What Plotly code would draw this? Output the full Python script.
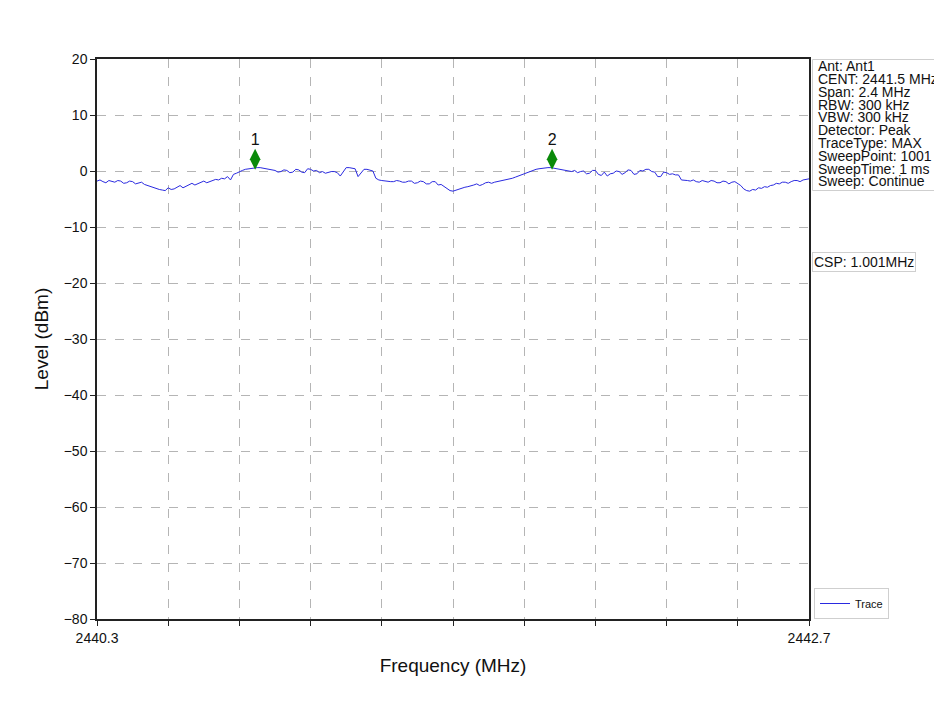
import plotly.graph_objects as go

# Sweep settings
f_start = 2440.3
f_stop = 2442.7
f_step = 0.01

# Measured level at each sweep point (dBm)
level_dbm = [
    -1.8, -1.6, -1.9, -2.1, -1.7, -1.9, -2.0, -1.7, -1.8, -2.2,
    -2.1, -1.8, -1.9, -2.3, -2.2, -2.0, -2.4, -2.6, -2.8, -3.0,
    -3.1, -3.3, -3.4, -3.5, -3.0, -3.3, -3.2, -2.9, -2.6, -3.0,
    -2.7, -2.4, -2.2, -2.5, -2.3, -2.1, -1.8, -2.1, -1.9, -1.6,
    -1.5, -1.6, -1.3, -1.4, -1.0, -1.6, -0.6, -0.4, -0.1, 0.1,
    0.3, 0.4, 0.5, 0.6, 0.6, 0.6, 0.5, 0.4, 0.3, 0.2,
    0.1, -0.2, -0.1, 0.2, 0.1, -0.3, -0.2, 0.3, 0.2, -0.2,
    -0.3, 0.4, 0.3, 0.0, 0.1, -0.3, -0.1, -0.4, -0.2, -0.1,
    -0.1, -0.3, -0.9, -0.2, 0.6, 0.6, 0.5, 0.4, -1.0, -0.4,
    0.3, 0.3, 0.2, 0.0, -1.3, -1.6, -1.7, -1.8, -1.8, -1.9,
    -1.9, -1.7, -1.8, -2.0, -2.0, -1.8, -1.8, -2.2, -2.1, -1.8,
    -1.9, -2.3, -2.3, -1.9, -1.9, -2.5, -2.4, -2.8, -3.2, -3.5,
    -3.6, -3.4, -3.2, -3.0, -2.9, -2.8, -2.7, -2.5, -2.3, -2.6,
    -2.4, -2.1, -2.0, -2.2, -2.0, -1.9, -1.8, -1.7, -1.6, -1.5,
    -1.3, -1.1, -0.9, -0.6, -0.4, -0.2, 0.0, 0.2, 0.3, 0.4,
    0.5, 0.6, 0.6, 0.6, 0.5, 0.4, 0.3, 0.2, 0.1, 0.0,
    -0.1, 0.1, -0.3, -0.1, 0.0, -0.5, -0.4, 0.1, 0.1, -0.6,
    -0.8, -0.2, -0.9, -0.5, -0.4, 0.0, -0.1, -0.6, -0.3, 0.2,
    0.1, -0.6, -0.5, 0.1, 0.0, 0.3, 0.3, -0.1, -0.2, -1.0,
    -1.0, -0.2, -0.3, -0.6, -0.5, -0.7, -0.7, -1.6, -1.6, -1.7,
    -1.8, -1.6, -1.9, -2.0, -1.7, -1.9, -2.0, -1.7, -1.8, -2.1,
    -2.1, -1.8, -1.9, -2.3, -2.0, -1.9, -2.3, -2.6, -3.2, -3.5,
    -3.6, -3.3, -3.4, -3.0, -3.1, -2.8, -2.9, -2.6, -2.5, -2.2,
    -2.3, -2.0, -2.0, -2.2, -1.9, -1.7, -1.7, -1.9, -1.6, -1.5,
    -1.4,
]
freq_mhz = [round(f_start + i * f_step, 4) for i in range(len(level_dbm))]

# Peak markers
marker_names = ["1", "2"]
marker_freq = [2440.833, 2441.834]
marker_level = [2.1, 2.1]

# Instrument settings panel
settings_lines = [
    "Ant: Ant1",
    "CENT: 2441.5 MHz",
    "Span: 2.4 MHz",
    "RBW: 300 kHz",
    "VBW: 300 kHz",
    "Detector: Peak",
    "TraceType: MAX",
    "SweepPoint: 1001",
    "SweepTime: 1 ms",
    "Sweep: Continue",
]
csp_text = "CSP: 1.001MHz"

y_ticks = [20, 10, 0, -10, -20, -30, -40, -50, -60, -70, -80]
x_ticks = [round(f_start + 0.24 * k, 2) for k in range(11)]
x_ticktext = ["2440.3"] + [""] * 9 + ["2442.7"]

FONT = "Liberation Sans, Arial, sans-serif"
W, H = 934, 719
ML, MR, MT, MB = 97, 125, 59, 100
PW, PH = W - ML - MR, H - MT - MB


def px_x(px):
    return (px - ML) / PW


def px_y(py):
    return (H - MB - py) / PH


fig = go.Figure()

fig.add_trace(go.Scatter(
    x=freq_mhz, y=level_dbm, mode="lines", name="Trace",
    line=dict(color="#2a2ae0", width=1),
))

fig.add_trace(go.Scatter(
    x=marker_freq, y=marker_level, mode="markers+text",
    text=marker_names, textposition="top center",
    textfont=dict(size=16, color="#111", family=FONT),
    marker=dict(symbol="diamond-tall", size=15, color="#0a8a0a",
                line=dict(width=0)),
    showlegend=False, cliponaxis=False,
))

shapes = []
annotations = []

# Settings box
shapes.append(dict(
    type="rect", xref="paper", yref="paper",
    x0=px_x(812.5), x1=px_x(945), y0=px_y(190.5), y1=px_y(59.5),
    line=dict(color="#cfcfcf", width=1), fillcolor="white", layer="above",
))
for i, line in enumerate(settings_lines):
    annotations.append(dict(
        xref="paper", yref="paper", x=px_x(816), y=px_y(66.5 + 12.75 * i),
        xanchor="left", yanchor="middle", showarrow=False, text=line,
        font=dict(size=14, color="#111", family=FONT),
    ))

# CSP box
annotations.append(dict(
    xref="paper", yref="paper", x=px_x(812), y=px_y(262),
    xanchor="left", yanchor="middle", showarrow=False, text=csp_text,
    font=dict(size=14, color="#111", family=FONT),
    bordercolor="#cfcfcf", borderwidth=1, borderpad=1, bgcolor="white",
))

fig.update_layout(
    width=W, height=H,
    margin=dict(l=ML, r=MR, t=MT, b=MB),
    paper_bgcolor="white", plot_bgcolor="white",
    font=dict(family=FONT, color="#111"),
    shapes=shapes, annotations=annotations,
    showlegend=True,
    legend=dict(
        x=px_x(814), y=px_y(619), xanchor="left", yanchor="bottom",
        bordercolor="#cfcfcf", borderwidth=1, bgcolor="white",
        font=dict(size=11, color="#111", family=FONT),
        itemwidth=30, tracegroupgap=0,
    ),
    xaxis=dict(
        range=[f_start, f_stop], tickvals=x_ticks, ticktext=x_ticktext,
        ticks="outside", ticklen=5, tickcolor="#222", tickwidth=1,
        showline=True, linecolor="#222", linewidth=1.5, mirror=True,
        showgrid=True, gridcolor="#b5b5b5", griddash="dash", gridwidth=1,
        zeroline=False,
        tickfont=dict(size=14, color="#111", family=FONT),
        title=dict(text="Frequency (MHz)", font=dict(size=19, color="#111", family=FONT),
                   standoff=14),
    ),
    yaxis=dict(
        range=[-80, 20], tickvals=y_ticks,
        ticks="outside", ticklen=5, tickcolor="#222", tickwidth=1,
        showline=True, linecolor="#222", linewidth=1.5, mirror=True,
        showgrid=True, gridcolor="#b5b5b5", griddash="dash", gridwidth=1,
        zeroline=False,
        tickfont=dict(size=14, color="#111", family=FONT),
        title=dict(text="Level (dBm)", font=dict(size=19, color="#111", family=FONT),
                   standoff=10),
    ),
)

fig.write_html("out.html")
